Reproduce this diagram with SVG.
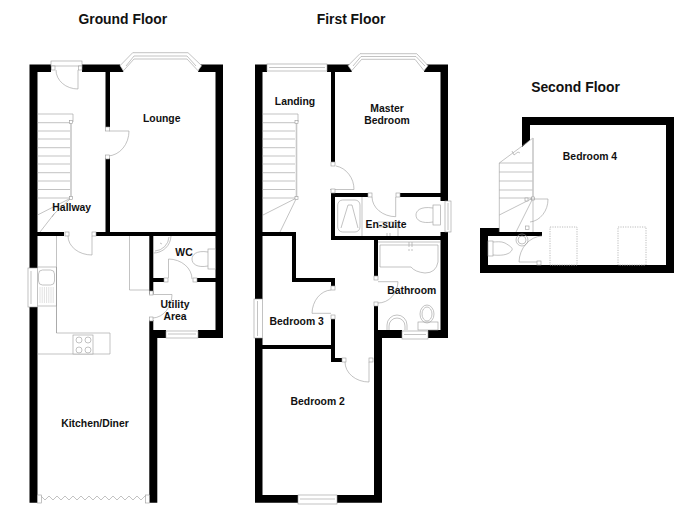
<svg xmlns="http://www.w3.org/2000/svg" width="700" height="509" viewBox="0 0 700 509">
<style>
.w{fill:#000;stroke:none}
.l{fill:none;stroke:#9a9a9a;stroke-width:.6}
.f{fill:#fff;stroke:#9a9a9a;stroke-width:.6}
.g{fill:none;stroke:#c8c8c8;stroke-width:1.6}
.v{fill:none;stroke:#b4b4b4;stroke-width:.9;stroke-dasharray:1.2 1.2}
text{font-family:"Liberation Sans",Arial,sans-serif;font-weight:700;font-size:10.4px;fill:#111;text-anchor:middle}
.t{font-size:13.9px}
</style>
<rect width="700" height="509" fill="#fff"/>
<g id="ground-floor">
<path class="w" d="M29.5 64.5H51V72H37.500V268H29.500ZM82 64.500H120L123.500 72H82ZM200.500 64.500H223V338H198V330H215.500V72H198ZM29.500 307H37.500V502.700H29.500ZM105.500 72H110V127H105.500ZM105.500 158H110V232H105.500ZM37.500 232H64V236H37.500ZM96 232H215.500V236H96ZM149.300 236H153.300V278H166V282H153.300V294H149.300ZM196 278H215.500V282H196ZM149.300 320H153.300V330H166V338H157.300V502.700H149.300Z"/>
<g>
<path class="f" d="M120 65.700 132.700 52.700H188L201.700 65.700 198 70.700 187 59H134L123.500 70.700Z"/>
<path class="l" d="M126 66 134 56H187L196 66"/>
<rect class="f" x="51" y="61" width="31" height="5"/>
<rect class="f" x="28" y="268" width="9.500" height="39"/>
<path class="l" d="M31 271V304"/>
<rect class="f" x="166" y="331" width="32" height="7"/>
<path class="l" d="M168 334H196"/>
</g>
<g>
<path class="l" d="M78 70V89A22 19 0 0 1 56 70"/>
<rect class="f" x="51.500" y="66" width="3.500" height="4"/><rect class="f" x="78.500" y="66" width="3.500" height="4"/>
<path class="l" d="M109 131H129A22 25 0 0 1 108 156"/>
<rect class="f" x="105.500" y="127" width="4" height="4"/><rect class="f" x="105.500" y="155" width="4" height="4"/>
<path class="l" d="M92 236V255A24 19 0 0 1 68 236"/>
<rect class="f" x="65" y="232" width="4" height="4"/><rect class="f" x="92" y="232" width="4" height="4"/>
<path class="l" d="M168.500 278V259A24 20 0 0 1 192 279"/>
<rect class="f" x="164" y="278" width="4" height="4"/><rect class="f" x="193" y="278" width="4" height="4"/>
<path class="l" d="M151 294.500H172A20 24 0 0 1 153 318"/>
<rect class="f" x="149.500" y="291" width="3.500" height="4"/><rect class="f" x="149.500" y="317" width="3.500" height="4"/>
</g>
<g>
<path class="l" d="M37.500 114H73V122M37.500 122.700H70M37.500 131H70M37.500 139H70M37.500 147.700H70M37.500 156H70M37.500 164H70M37.500 172.700H70M37.500 181H70M37.500 189.500H70M37.500 198H70M37.500 215 71 198M40 232 54 214 52 217M54 214 71 198"/>
<path class="g" d="M71 122V198"/>
<rect class="f" x="69.500" y="120.500" width="3" height="3"/><rect class="f" x="69.500" y="196.500" width="3" height="3"/>
</g>
<g>
<path class="l" d="M56.500 236V333H110V354H37.500M56.500 333V267M129.500 236V290H149.300"/>
<rect class="f" x="73" y="335" width="20" height="19"/>
<circle class="l" cx="79" cy="340" r="3"/><circle class="l" cx="88" cy="340" r="3"/><circle class="l" cx="79" cy="350" r="3"/><circle class="l" cx="88" cy="350" r="3"/>
<path class="l" d="M37.500 267H56.500V306H37.500"/>
<rect class="l" x="38.500" y="270" width="16" height="15" rx="4"/>
<path d="M40 287V303M42.200 287V303M44.400 287V303M46.600 287V303M48.800 287V303M51 287V303M53.200 287V303" fill="none" stroke="#c4c4c4" stroke-width=".5"/>
<path class="l" d="M153.300 253A17.500 17.500 0 0 0 171 236M155 251A15 15 0 0 0 169 237"/>
<path class="l" d="M160 243 162 244"/>
<rect class="l" x="208" y="249" width="7.500" height="20"/>
<path class="l" d="M208 252C196 250 192 255 192 259 192 264 197 268 208 266"/>
<path class="l" d="M37.500 499 41 496 45 500 49 496 53 500 57 496 61 500 65 496 69 500 73 496 77 500 81 496 85 500 89 496 93 500 97 496 101 500 105 496 109 500 113 496 117 500 121 496 125 500 129 496 133 500 137 496 141 500 145 496 149.300 499"/>
<rect class="f" x="37.500" y="495" width="4" height="8"/><rect class="f" x="145.300" y="495" width="4" height="8"/>
</g>
<text class="t" x="122.800" y="24">Ground Floor</text>
<text x="161.700" y="121.700">Lounge</text>
<text x="71.700" y="211">Hallway</text>
<text x="184" y="256">WC</text>
<text x="175" y="308">Utility</text>
<text x="175" y="320">Area</text>
<text x="95" y="426.700">Kitchen/Diner</text>
</g>
<g id="first-floor">
<path class="w" d="M255 64.500H267V72H262.500V299H255ZM327 64.500H352L351.700 72H335V162H331V72H327ZM425 64.500H448V201H440.500V193H399V197H440.500V72H424ZM440.500 232H448V338H428V330H440.500V240H331V190H335V236H440.500ZM331 193H368V197H331ZM374 240H378V277H374ZM374 303H378V330H402V338H382V502.700H337V495H374ZM255 338H262.500V495H298V502.700H255ZM262.500 232H296V278H335V287H331V282H292V236H262.500ZM331 318H335V358H342V362H331ZM262.500 345H331V349H262.500Z"/>
<g>
<path class="f" d="M348 65.700 360 53.700H416.700L428 65.700 424 70.700 415 59.300H361.700L351.700 70.700Z"/>
<path class="l" d="M353 66 361 56.500H416L425 66"/>
<rect class="f" x="267" y="64" width="60" height="7"/><path class="l" d="M269 67.500H325"/>
<rect class="f" x="445" y="201" width="6" height="31"/><path class="l" d="M448 203V230"/>
<rect class="f" x="402" y="331" width="26" height="8"/><path class="l" d="M404 334.500H426"/>
<rect class="f" x="254" y="299" width="8.500" height="39"/><path class="l" d="M257.500 301V336"/>
<rect class="f" x="298" y="495" width="39" height="9"/><path class="l" d="M300 499H335"/>
</g>
<g>
<path class="l" d="M330 189.500H354A22 24 0 0 0 336 166"/>
<rect class="f" x="331" y="162" width="4" height="4"/><rect class="f" x="331" y="189" width="4" height="4"/>
<path class="l" d="M395.700 197V216.700A24 20 0 0 1 372 197"/>
<rect class="f" x="368" y="193" width="4" height="4"/><rect class="f" x="396" y="193" width="4" height="4"/>
<path class="l" d="M378 281.700H398A20 22 0 0 1 378 303"/>
<rect class="f" x="374" y="276" width="4" height="4"/><rect class="f" x="374" y="302" width="4" height="4"/>
<path class="l" d="M331 313.300H312A20 24 0 0 1 331 290"/>
<rect class="f" x="331" y="286" width="4" height="4"/><rect class="f" x="331" y="315" width="4" height="4"/>
<path class="l" d="M369 362V382A24 20 0 0 1 345 362"/>
<rect class="f" x="342" y="358" width="4" height="4"/><rect class="f" x="369" y="358" width="4" height="4"/>
</g>
<g>
<path class="l" d="M262.500 114H298V122M262.500 122.700H295M262.500 131H295M262.500 139H295M262.500 147.700H295M262.500 156H295M262.500 164H295M262.500 172.700H295M262.500 181H295M262.500 189.500H295M262.500 198H295M263 215 296.500 198M280 232 296.500 198"/>
<path class="g" d="M296.500 122V198"/>
<rect class="f" x="295" y="120.500" width="3" height="3"/><rect class="f" x="295" y="196.500" width="3" height="3"/>
</g>
<g>
<path class="l" d="M362 197V236"/>
<rect class="l" x="337.700" y="200" width="22.300" height="32" rx="5"/>
<path class="l" d="M348 205 341 228M352 205 358 228M348 205H352"/>
<path class="l" d="M378 222H398V236M378 227H398"/><path class="l" d="M387 233V236M390 233V236"/>
<rect class="l" x="433" y="205" width="7.500" height="20"/>
<path class="l" d="M433 208C420 206 416 211 416 215 416 220 421 224 433 222"/>
<path class="l" d="M378 242H440.500"/>
<path class="l" d="M380 245H438V262Q436 273 425 273 415 272 411 267H380Z"/>
<path class="l" d="M409 242V247M412 242V247M409 249V251M412 249V251"/>
<path class="l" d="M387 330V325A10 10 0 0 1 407 325V330"/>
<path class="l" d="M389 330V326A8 8 0 0 1 405 326V330"/>
<ellipse class="l" cx="427" cy="314" rx="7" ry="9"/><ellipse class="l" cx="427" cy="314" rx="5" ry="7"/>
<rect class="l" x="418" y="322" width="20" height="8"/>
</g>
<text class="t" x="351" y="24">First Floor</text>
<text x="295" y="105">Landing</text>
<text x="387" y="111.700">Master</text>
<text x="387" y="124">Bedroom</text>
<text x="386" y="228">En-suite</text>
<text x="411.700" y="294">Bathroom</text>
<text x="296.700" y="325">Bedroom 3</text>
<text x="317.700" y="404.700">Bedroom 2</text>
</g>
<g id="second-floor">
<path class="w" d="M522 117H674V273H480V228H499.300V232H542V236H488V265H666V125H530V140L522 147Z"/>
<g>
<path class="l" d="M499.300 163V232M499.300 163 533 138M499.300 163H533M499.300 172H533M499.300 181H533M499.300 190H533M499.300 198H533M499.300 215 533 198M516 232 533 198M533 198V232"/>
<path class="l" d="M512 151 514 155 518 152 520 153"/>
<path class="g" d="M533 138V198"/>
<rect class="f" x="531.500" y="197" width="3" height="3"/>
<rect class="f" x="525" y="198" width="3" height="3"/>
<rect class="f" x="525.500" y="226" width="3.500" height="3.500"/>
<path class="l" d="M530 199H548A20 23 0 0 1 530 222"/>
</g>
<g>
<rect class="l" x="488" y="241" width="5" height="15"/>
<path class="l" d="M493 242C496 242 501 241 505 243 510 246 513 248 512 250 510 254 504 256 493 255"/>
<circle class="l" cx="522" cy="240" r="6"/><circle class="l" cx="522" cy="240" r="4"/>
<path class="l" d="M542 236A24 27 0 0 0 519 262H540"/>
<rect class="f" x="537" y="261" width="4" height="4"/>
<rect class="v" x="550" y="227" width="27" height="38"/>
<rect class="v" x="618" y="227" width="28" height="38"/>
</g>
<text class="t" x="575.500" y="92">Second Floor</text>
<text x="590" y="160">Bedroom 4</text>
</g>
</svg>
